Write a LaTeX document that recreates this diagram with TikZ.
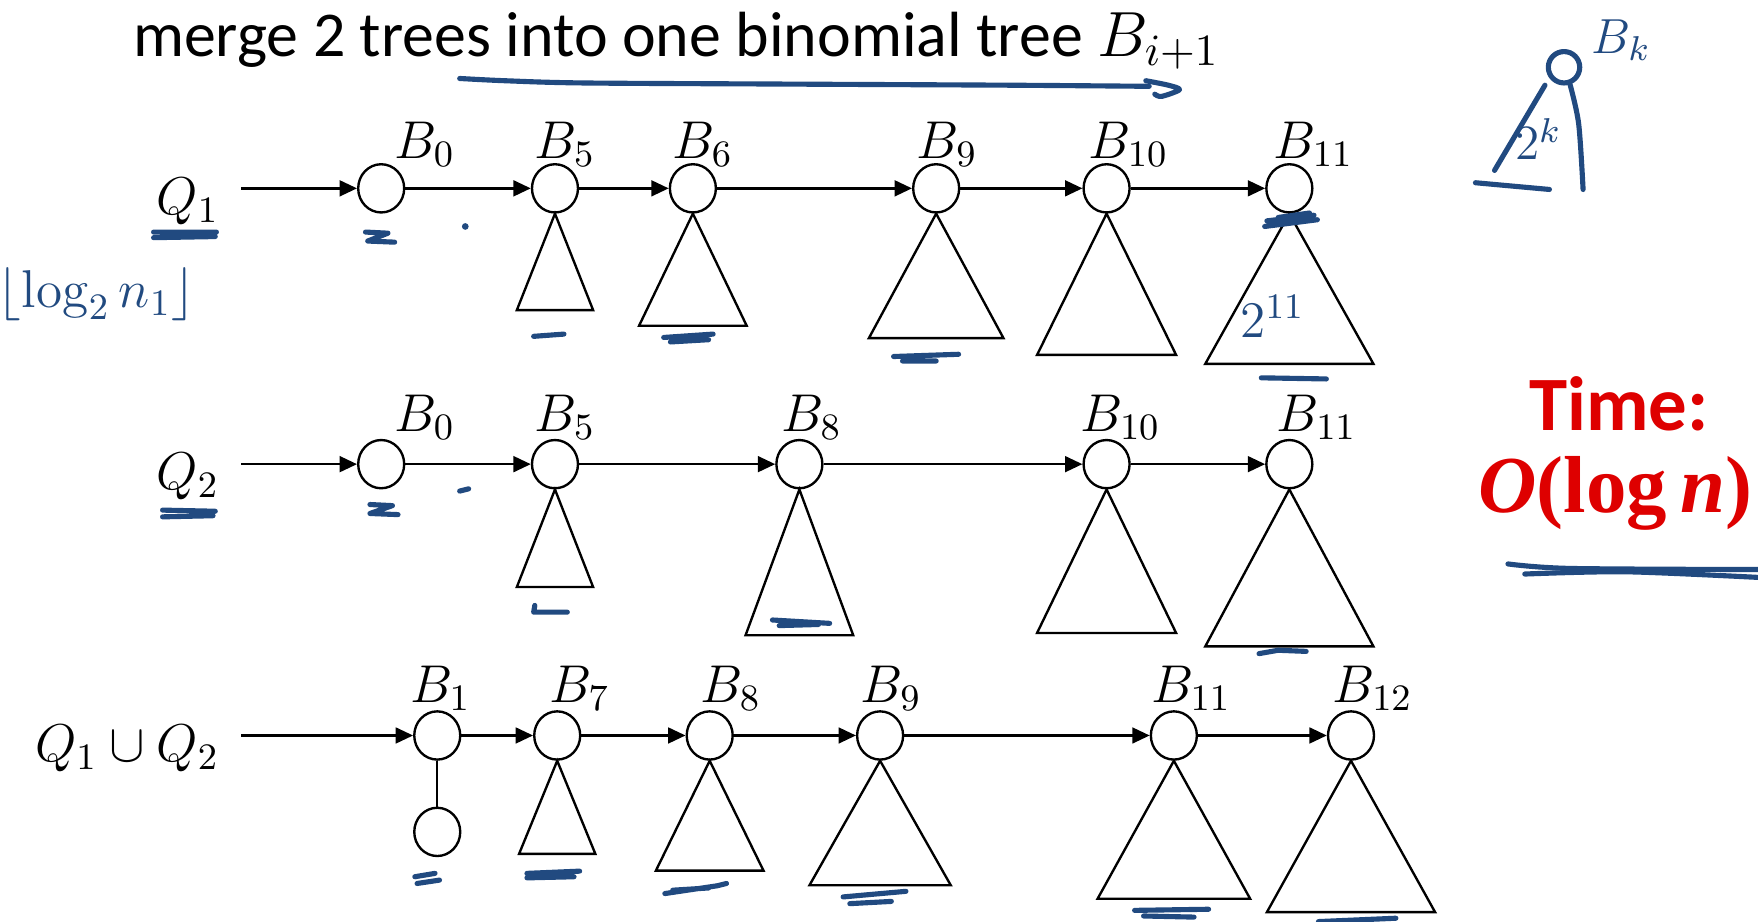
\RequirePackage{fix-cm}
\documentclass[tikz,border=0pt]{standalone}
\usepackage{amsmath}
\usepackage{amssymb}
\usepackage[no-math]{fontspec}
\setmainfont{Carlito}
\newfontfamily\costfont{Liberation Serif}
\usetikzlibrary{arrows.meta,shapes.geometric}

\definecolor{pen}{RGB}{33,74,128}
\definecolor{alarm}{RGB}{222,0,0}

\tikzset{
  root/.style={draw, ellipse, line width=0.6pt, minimum width=0.41cm, minimum height=0.43cm, inner sep=0pt},
  link/.style={line width=0.6pt, -{Triangle[length=4.4pt,width=4pt]}},
  subtree/.style={line width=0.6pt},
  blabel/.style={anchor=base west, inner sep=0pt, font=\fontsize{13.5}{16}\selectfont},
  qlabel/.style={anchor=base east, inner sep=0pt, font=\fontsize{13.5}{16}\selectfont},
  ink/.style={pen, line width=1.3pt, line cap=round, line join=round},
  inktext/.style={text=pen, inner sep=0pt},
}

\begin{document}
\begin{tikzpicture}[x=0.01cm, y=-0.01cm]
    \useasboundingbox (0,0) rectangle (1568,822);

    % 1. Title
    \node[anchor=base west, inner sep=0pt, font=\fontsize{16.2}{19}\selectfont] (title) at (118,50)
        {merge 2 trees into one binomial tree $B_{i+1}$};

    % 2. Queue Q_1
    \node[qlabel] (q1) at (196,191) {$Q_1$};
    \coordinate (q1in) at (215,168);
    \foreach \k/\x/\lx in {0/340/351, 5/495/476, 6/618/599, 9/835/817, 10/987/970, 11/1150/1135} {
        \node[root] (q1b\k) at (\x,168) {};
        \node[blabel] (q1l\k) at (\lx,141) {$B_{\k}$};
    }
    \foreach \k/\w/\h in {5/34/86, 6/48/100, 9/60/111, 10/62/126, 11/75/134} {
        \draw[subtree] (q1b\k.south) -- ++(-\w,\h) -- ++(2*\w,0) -- cycle;
    }
    \draw[link] (q1in) -- (q1b0);
    \foreach \a/\b in {0/5, 5/6, 6/9, 9/10, 10/11} {
        \draw[link] (q1b\a) -- (q1b\b);
    }

    % 3. Queue Q_2
    \node[qlabel] (q2) at (196,437) {$Q_2$};
    \coordinate (q2in) at (215,414);
    \foreach \k/\x/\lx in {0/340/351, 5/495/476, 8/713/696, 10/987/963, 11/1150/1138} {
        \node[root] (q2b\k) at (\x,414) {};
        \node[blabel] (q2l\k) at (\lx,385) {$B_{\k}$};
    }
    \foreach \k/\w/\h in {5/34/87, 8/48/130, 10/62/128, 11/75/140} {
        \draw[subtree] (q2b\k.south) -- ++(-\w,\h) -- ++(2*\w,0) -- cycle;
    }
    \draw[link] (q2in) -- (q2b0);
    \foreach \a/\b in {0/5, 5/8, 8/10, 10/11} {
        \draw[link] (q2b\a) -- (q2b\b);
    }

    % 4. Merged queue
    \node[qlabel] (q3) at (196,679) {$Q_1 \cup Q_2$};
    \coordinate (q3in) at (215,656);
    \foreach \k/\x/\lx in {1/390/365, 7/497/489, 8/633/624, 9/785/767, 11/1047/1026, 12/1205/1188} {
        \node[root] (q3b\k) at (\x,656) {};
        \node[blabel] (q3l\k) at (\lx,627) {$B_{\k}$};
    }
    \node[root] (q3c1) at (390,742) {};
    \draw[subtree] (q3b1) -- (q3c1);
    \foreach \k/\w/\h in {7/34/83, 8/48/98, 9/63/111, 11/68/123, 12/75/135} {
        \draw[subtree] (q3b\k.south) -- ++(-\w,\h) -- ++(2*\w,0) -- cycle;
    }
    \draw[link] (q3in) -- (q3b1);
    \foreach \a/\b in {1/7, 7/8, 8/9, 9/11, 11/12} {
        \draw[link] (q3b\a) -- (q3b\b);
    }

    % 5. Running time
    \node[text=alarm, font=\fontsize{19.5}{22}\selectfont\bfseries] (time) at (1444,360) {Time:};
    \node[text=alarm, font=\fontsize{20.5}{24}\selectfont\costfont\bfseries, anchor=west, inner sep=0pt] (cost) at (1318,440)
        {\textit{O}(log\,\textit{n})};

    % 6. Pen notes
    \draw[ink] plot[smooth] coordinates {(410,70) (450,72) (520,74) (700,75) (900,76) (1025,77)};
    \draw[ink] plot[smooth] coordinates {(1022,72) (1042,76) (1052,80) (1036,86) (1030,84)};
    \draw[ink] (137,207) -- (193,207) (137,212) -- (192,211);
    \draw[ink] (326,207) -- (346,208) -- (328,215) -- (352,216);
    \fill[pen] (415,202) circle (3);
    \draw[ink] (476,300) -- (503,298);
    \draw[ink] (592,301) -- (636,298) (598,305) -- (632,303);
    \draw[ink] (797,318) -- (855,316) (805,322) -- (835,322);
    \draw[ink] (1130,197) -- (1172,192) (1128,202) -- (1175,196) (1140,194) -- (1168,190);
    \node[inktext, font=\fontsize{13}{15}\selectfont] (pow11) at (1135,282) {$2^{11}$};
    \draw[ink] (1125,337) -- (1183,338);
    \node[inktext, font=\fontsize{13.5}{16}\selectfont] (floorlog) at (86,262) {$\lfloor \log_2 n_1 \rfloor$};

    \node[inktext, font=\fontsize{12.5}{15}\selectfont] (bk) at (1446,36) {$B_k$};
    \draw[ink] (1395,60) circle (14);
    \draw[ink] (1378,76) -- (1333,152);
    \draw[ink] plot[smooth] coordinates {(1400,74) (1408,110) (1412,169)};
    \draw[ink] (1316,163) -- (1382,169);
    \node[inktext, font=\fontsize{12.5}{15}\selectfont] (powk) at (1372,124) {$2^k$};

    \draw[ink] (145,455) -- (192,456) (145,461) -- (190,460);
    \draw[ink] (330,450) -- (350,451) -- (330,458) -- (355,459);
    \draw[ink] (410,438) -- (418,436);
    \draw[ink] (477,540) -- (476,546) -- (506,546);
    \draw[ink] (689,553) -- (740,556) (695,558) -- (730,557);
    \draw[ink] (1123,583) -- (1140,580) -- (1165,581);
    \draw[ink] plot[smooth] coordinates {(1345,503) (1400,507) (1568,508)};
    \draw[ink] plot[smooth] coordinates {(1360,512) (1450,510) (1568,515)};

    \draw[ink] (370,782) -- (388,779) (372,788) -- (392,785);
    \draw[ink] (470,779) -- (517,777) (470,783) -- (512,782);
    \draw[ink] (593,797) -- (640,790) -- (648,788) (600,794) -- (632,792);
    \draw[ink] (752,800) -- (808,795) (758,806) -- (795,804);
    \draw[ink] (1012,812) -- (1078,811) (1020,817) -- (1065,818);
    \draw[ink] (1176,822) -- (1245,819);

\end{tikzpicture}
\end{document}
